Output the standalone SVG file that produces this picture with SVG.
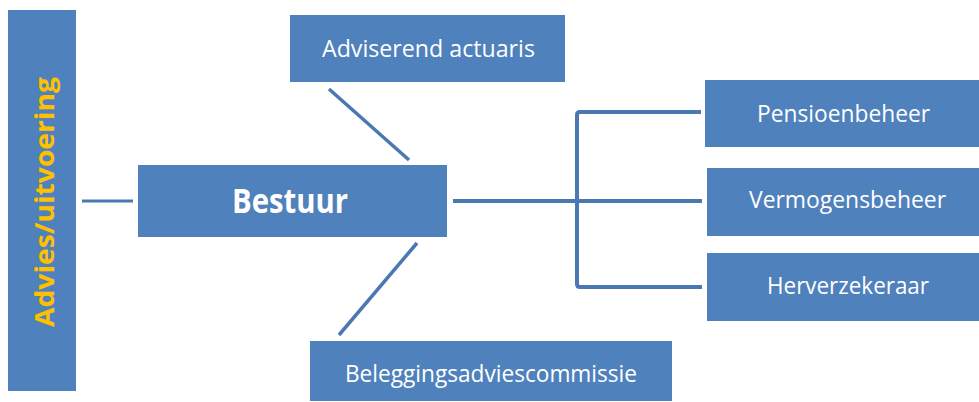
<svg xmlns="http://www.w3.org/2000/svg" width="979" height="402" viewBox="0 0 979 402">
<style>
.box{fill:#4F81BD;}
.lbl{font-family:"Open Sans","Noto Sans",sans-serif;font-size:24px;fill:#FFFFFF;}
.big{font-family:"Open Sans","Noto Sans",sans-serif;font-size:34px;font-weight:bold;fill:#FFFFFF;}
.side{font-family:"Open Sans","Noto Sans",sans-serif;font-size:27px;font-weight:bold;fill:#FFC000;}
.conn{fill:none;stroke:#4A78B2;stroke-linecap:butt;stroke-linejoin:round;}
</style>
<rect width="979" height="402" fill="#FFFFFF"/>
<g id="connectors">
<path class="conn" stroke-width="3" d="M82,201 H133"/>
<path class="conn" stroke-width="3.5" d="M329,89 L409,160"/>
<path class="conn" stroke-width="3.5" d="M417,243 L339,335"/>
<path class="conn" stroke-width="4" d="M453,201 H702"/>
<path class="conn" stroke-width="4" d="M701,112 H580 Q577,112 577,115 V284 Q577,287 580,287 H702"/>
</g>
<g id="advies-uitvoering">
<rect class="box" x="8" y="10" width="68" height="381"/>
<text class="side" transform="translate(54,327) rotate(-90)" x="0" y="0" textLength="250" lengthAdjust="spacingAndGlyphs">Advies/uitvoering</text>
</g>
<g id="bestuur">
<rect class="box" x="138" y="165" width="309" height="72"/>
<text class="big" x="232" y="213" textLength="116" lengthAdjust="spacingAndGlyphs">Bestuur</text>
</g>
<g id="adviserend-actuaris">
<rect class="box" x="290" y="15" width="275" height="67"/>
<text class="lbl" x="322" y="57" textLength="213" lengthAdjust="spacingAndGlyphs">Adviserend  actuaris</text>
</g>
<g id="beleggingsadviescommissie">
<rect class="box" x="310" y="341" width="362" height="60"/>
<text class="lbl" x="345" y="382" textLength="292" lengthAdjust="spacingAndGlyphs">Beleggingsadviescommissie</text>
</g>
<g id="pensioenbeheer">
<rect class="box" x="705" y="80" width="274" height="67"/>
<text class="lbl" x="757" y="122" textLength="173" lengthAdjust="spacingAndGlyphs">Pensioenbeheer</text>
</g>
<g id="vermogensbeheer">
<rect class="box" x="707" y="168" width="272" height="68"/>
<text class="lbl" x="749" y="208" textLength="197" lengthAdjust="spacingAndGlyphs">Vermogensbeheer</text>
</g>
<g id="herverzekeraar">
<rect class="box" x="707" y="253" width="272" height="68"/>
<text class="lbl" x="767" y="294" textLength="162" lengthAdjust="spacingAndGlyphs">Herverzekeraar</text>
</g>
</svg>
